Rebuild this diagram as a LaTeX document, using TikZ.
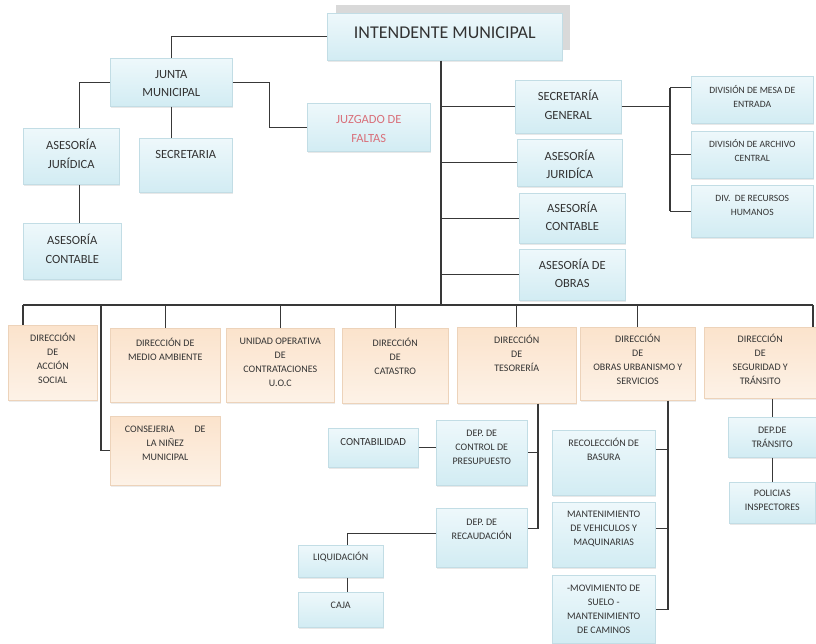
\documentclass[tikz,border=0pt]{standalone}
\usepackage{fontspec}
\setmainfont{Carlito}
\usetikzlibrary{shadows}
\definecolor{tc}{HTML}{333333}
\definecolor{pinktxt}{HTML}{D9707A}
\definecolor{ln}{HTML}{383838}
\definecolor{bluetop}{HTML}{EEF8FB}
\definecolor{bluebot}{HTML}{D2ECF3}
\definecolor{bluebd}{HTML}{C2DDE5}
\definecolor{ortop}{HTML}{FBE3CC}
\definecolor{orbot}{HTML}{FDF2E7}
\definecolor{orbd}{HTML}{EDD3BA}
\newcommand\bx[9]{%
  \node[#2, minimum width={(#6-#4)*1pt}, minimum height={(#7-#5)*1pt}, anchor=north west,
    label={[#3, yshift={((#5+#7)/2-#8)*1pt}]center:{#9}}] (#1) at (#4,#5) {};}
\begin{document}
\begin{tikzpicture}[x=1pt,y=-1pt,
  bluebox/.style={rectangle, inner sep=0pt, top color=bluetop, bottom color=bluebot, draw=bluebd, line width=0.5pt,
     drop shadow={opacity=0.18, shadow xshift=1pt, shadow yshift=-1.5pt}},
  orbox/.style={rectangle, inner sep=0pt, top color=ortop, bottom color=orbot, draw=orbd, line width=0.5pt,
     drop shadow={opacity=0.15, shadow xshift=1pt, shadow yshift=-1.5pt}},
  big/.style={text=tc, inner sep=0pt, font=\fontsize{18}{20}\selectfont},
  mid/.style={text=tc, inner sep=0pt, align=center, font=\fontsize{12.5}{18.5}\selectfont},
  midp/.style={mid, text=pinktxt},
  sml/.style={text=tc, inner sep=0pt, align=center, font=\fontsize{10}{14}\selectfont},
  low/.style={text=tc, inner sep=0pt, align=center, font=\fontsize{10.8}{14}\selectfont},
  dv/.style={text=tc, inner sep=0pt, align=center, font=\fontsize{9.6}{14}\selectfont},
  conn/.style={draw=ln, line width=1.4pt}]
\useasboundingbox (0,0) rectangle (816,643);
\fill[white] (0,0) rectangle (816,643);
% shadow behind intendente
\fill[gray!30] (336,5) rectangle (570,50);
% ---- boxes
\bx{intend}{bluebox}{big}{327}{13}{562}{60}{32}{INTENDENTE MUNICIPAL}
\bx{junta}{bluebox}{mid}{110}{58}{232}{106}{83.5}{JUNTA\\MUNICIPAL}
\bx{juzg}{bluebox}{midp}{307}{103}{430}{151}{128.5}{JUZGADO DE\\FALTAS}
\bx{asjur1}{bluebox}{mid}{23}{128}{119}{184}{153.5}{ASESORÍA\\JURÍDICA}
\bx{secr}{bluebox}{mid}{139}{138}{232}{192}{154}{SECRETARIA}
\bx{ascont1}{bluebox}{mid}{23}{223}{121}{279}{248.5}{ASESORÍA\\CONTABLE}
\bx{secgen}{bluebox}{mid}{515}{80}{621}{133}{104.5}{SECRETARÍA\\GENERAL}
\bx{asjur2}{bluebox}{mid}{517}{139}{622}{186}{164}{ASESORÍA\\JURIDÍCA}
\bx{ascont2}{bluebox}{mid}{519}{193}{625}{243}{216}{ASESORÍA\\CONTABLE}
\bx{asobras}{bluebox}{mid}{519}{249}{625}{300}{273}{ASESORÍA DE\\OBRAS}
\bx{div1}{bluebox}{dv}{691}{76}{813}{123}{96}{DIVISIÓN DE MESA DE\\ENTRADA}
\bx{div2}{bluebox}{dv}{691}{131}{813}{178}{150}{DIVISIÓN DE ARCHIVO\\CENTRAL}
\bx{div3}{bluebox}{dv}{691}{185}{813}{237}{205}{DIV.\ \ DE RECURSOS\\HUMANOS}
\bx{accion}{orbox}{sml}{8}{325}{97}{400}{358}{DIRECCIÓN\\DE\\ACCIÓN\\SOCIAL}
\bx{medio}{orbox}{sml}{110}{328}{220}{402}{349}{DIRECCIÓN DE\\MEDIO AMBIENTE}
\bx{uoc}{orbox}{sml}{226}{328}{334}{402}{362.5}{UNIDAD OPERATIVA\\DE\\CONTRATACIONES\\U.O.C}
\bx{catas}{orbox}{sml}{342}{328}{448}{403}{356}{DIRECCIÓN\\DE\\CATASTRO}
\bx{tes}{orbox}{sml}{457}{327}{576}{403}{353}{DIRECCIÓN\\DE\\TESORERÍA}
\bx{obras}{orbox}{sml}{580}{327}{695}{400}{359.5}{DIRECCIÓN\\DE\\OBRAS URBANISMO Y\\SERVICIOS}
\bx{seg}{orbox}{sml}{704}{327}{816}{398}{359.5}{DIRECCIÓN\\DE\\SEGURIDAD Y\\TRÁNSITO}
\bx{consej}{orbox}{sml}{110}{416}{220}{485}{443}{CONSEJERIA\hspace{2em}DE\\LA NIÑEZ\\MUNICIPAL}
\bx{contab}{bluebox}{low}{328}{428}{418}{467}{442}{CONTABILIDAD}
\bx{control}{bluebox}{sml}{436}{420}{527}{485}{447}{DEP. DE\\CONTROL DE\\PRESUPUESTO}
\bx{recaud}{bluebox}{sml}{436}{508}{527}{567}{529}{DEP. DE\\RECAUDACIÓN}
\bx{liquid}{bluebox}{sml}{298}{545}{383}{577}{557}{LIQUIDACIÓN}
\bx{caja}{bluebox}{sml}{298}{592}{383}{627}{605}{CAJA}
\bx{recol}{bluebox}{sml}{552}{430}{655}{495}{449.5}{RECOLECCIÓN DE\\BASURA}
\bx{mant}{bluebox}{sml}{552}{502}{655}{567}{528.5}{MANTENIMIENTO\\DE VEHICULOS Y\\MAQUINARIAS}
\bx{mov}{bluebox}{sml}{552}{575}{655}{643}{609}{-MOVIMIENTO DE\\SUELO -\\MANTENIMIENTO\\DE CAMINOS}
\bx{dept}{bluebox}{sml}{728}{417}{816}{457}{437.5}{DEP.DE\\TRÁNSITO}
\bx{pol}{bluebox}{sml}{729}{482}{815}{523}{500.5}{POLICIAS\\INSPECTORES}
% ---- connectors, upper left
\draw[conn] (intend.west) -| (junta.north);
\draw[conn] (junta.east) -- ++(37,0) |- (juzg.west);
\draw[conn] (junta.west) -| ([xshift=8pt]asjur1.north);
\draw[conn] (junta.south) -- (junta.south |- secr.north);
\draw[conn] ([xshift=8pt]asjur1.south) -- ([xshift=8pt]asjur1.south |- ascont1.north);
% ---- trunk
\coordinate (bus) at (441,305);
\draw[conn] (intend.south -| bus) -- (bus);
\foreach \n in {secgen,asjur2,ascont2,asobras} \draw[conn] (\n.west -| bus) -- (\n.west);
% ---- divisions bracket
\coordinate (br) at (670,0);
\coordinate (d1) at ([yshift=12pt]div1.west);
\draw[conn] (secgen.east) -- (secgen.east -| br);
\draw[conn] (d1 -| br) -- (div3.west -| br);
\draw[conn] (d1 -| br) -- (d1);
\draw[conn] (div2.west -| br) -- (div2.west);
\draw[conn] (div3.west -| br) -- (div3.west);
% ---- bus
\coordinate (bl) at (23,305);
\coordinate (bc) at (101,305);
\coordinate (brr) at (813,305);
\draw[conn] (bl) -- (brr);
\draw[conn] (bl) -- (bl |- accion.north);
\draw[conn] (bc) |- (consej.west);
\foreach \n in {medio,uoc,catas,tes,obras} \draw[conn] (\n.north |- bus) -- (\n.north);
\draw[conn] (brr) -- (brr |- seg.north);
% ---- tesoreria
\coordinate (tt) at (538,0);
\coordinate (tr) at ([yshift=9pt]recaud.east);
\draw[conn] (tes.south -| tt) |- (tr);
\draw[conn] (control.east -| tt) -- (control.east);
\draw[conn] (contab.east) -- (contab.east -| control.west);
\draw[conn] ([yshift=4pt]recaud.west) -| ([xshift=7pt]liquid.north);
\draw[conn] ([xshift=7pt]liquid.south) -- ([xshift=7pt]caja.north);
% ---- obras
\coordinate (ot) at (668,0);
\coordinate (r1) at ([yshift=13pt]recol.east);
\coordinate (m1) at ([yshift=6pt]mant.east);
\draw[conn] (obras.south -| ot) |- (mov.east);
\draw[conn] (r1 -| ot) -- (r1);
\draw[conn] (m1 -| ot) -- (m1);
% ---- seguridad
\draw[conn] (dept.north |- seg.south) -- (dept.north);
\draw[conn] (dept.south) -- (pol.north);
\end{tikzpicture}
\end{document}
